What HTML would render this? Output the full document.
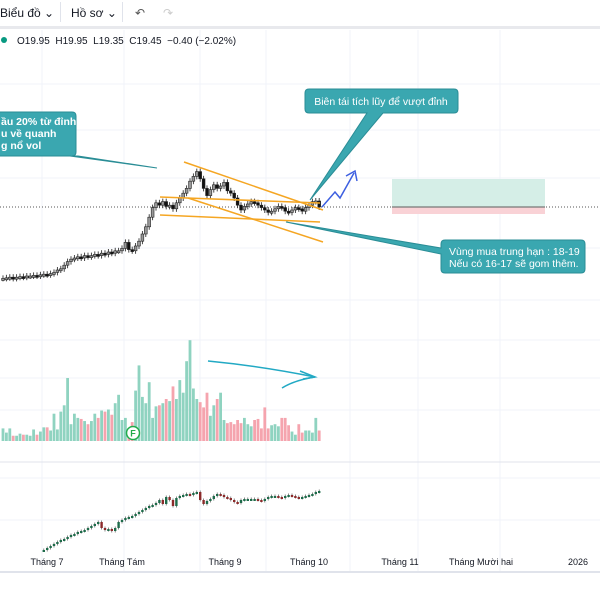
<!DOCTYPE html>
<html><head><meta charset="utf-8">
<style>
html,body{margin:0;padding:0;background:#fff;width:600px;height:600px;overflow:hidden;font-family:"Liberation Sans","Noto Sans CJK SC",sans-serif}
.tb{position:absolute;left:0;top:0;width:600px;height:26px;border-bottom:3px solid #e8e9ed;font-size:12px;color:#131722}
.tb span{position:absolute;top:6px}
</style></head><body>
<div class="tb">
<span style="left:0">Biểu đồ ⌄</span>
<span style="left:60px;top:2px;width:1px;height:20px;background:#e0e3eb"></span>
<span style="left:71px">Hồ sơ ⌄</span>
<span style="left:122px;top:2px;width:1px;height:20px;background:#e0e3eb"></span>
<span style="left:135px;color:#555">↶</span>
<span style="left:163px;color:#ccc">↷</span>
</div>
<svg width="600" height="600" style="position:absolute;left:0;top:0" id="c">
<g id="grid"></g>
<line x1="0" y1="207" x2="600" y2="207" stroke="#555" stroke-width="1" stroke-dasharray="1,2"/>
<rect x="392" y="179" width="153" height="28" fill="#d5eee7"/>
<rect x="392" y="207" width="153" height="7" fill="#f9d2d6"/>
<line x1="392" y1="207" x2="545" y2="207" stroke="#777" stroke-width="1.2"/>
<g id="vol"></g>
<g id="price"></g>
<g id="lower"></g>
<g stroke="#f5a623" stroke-width="1.5">
<line x1="184" y1="162" x2="323" y2="210"/>
<line x1="160" y1="197" x2="320" y2="203"/>
<line x1="160" y1="215" x2="320" y2="222"/>
<line x1="188" y1="198" x2="323" y2="242"/>
</g>
<polyline points="322,207 335,192 340,198 354,173" fill="none" stroke="#3d5fe0" stroke-width="1.5"/>
<polyline points="346,176 355,171 357,181" fill="none" stroke="#3d5fe0" stroke-width="1.5"/>
<path d="M208,361 Q260,366 315,377 Q295,380 282,388" fill="none" stroke="#22a9c4" stroke-width="1.5"/>
<polyline points="300,371 315,377 303,379" fill="none" stroke="#22a9c4" stroke-width="1.5"/>
<circle cx="133" cy="433" r="6.5" fill="#fff" stroke="#22ab4a" stroke-width="1.5"/>
<text x="133" y="436.5" font-size="9" text-anchor="middle" fill="#22ab4a" font-weight="bold">F</text>
<path d="M-5,112 H72 Q76,112 76,116 V152 Q76,156 72,156 H78 L157,168 L70,156 H-5 Z" fill="#3aa7b0" stroke="#2a8d96"/>
<text font-size="10.5" fill="#fff" font-weight="bold"><tspan x="1" y="125">ầu 20% từ đỉnh</tspan><tspan x="1" y="137">u về quanh</tspan><tspan x="1" y="149">g nổ vol</tspan></text>
<path d="M309,89 H454 Q458,89 458,93 V109 Q458,113 454,113 H383 L310,200 L367,113 H309 Q305,113 305,109 V93 Q305,89 309,89 Z" fill="#3aa7b0" stroke="#2a8d96"/>
<text x="381" y="105" font-size="10.5" fill="#fff" text-anchor="middle">Biên tái tích lũy để vượt đỉnh</text>
<path d="M445,240 H581 Q585,240 585,244 V269 Q585,273 581,273 H445 Q441,273 441,269 V254 L286,222 L441,248 V244 Q441,240 445,240 Z" fill="#3aa7b0" stroke="#2a8d96"/>
<text font-size="10.5" fill="#fff"><tspan x="449" y="255">Vùng mua trung hạn : 18-19</tspan><tspan x="449" y="267">Nếu có 16-17 sẽ gom thêm.</tspan></text>
<line x1="0" y1="572" x2="600" y2="572" stroke="#e0e3eb" stroke-width="2"/>
<g id="xaxis" font-size="9" fill="#131722" text-anchor="middle"></g>
</svg>
<div style="position:absolute;left:0;top:36px;font-size:10px;color:#131722;white-space:nowrap"><span style="display:inline-block;width:6px;height:6px;border-radius:3px;background:#089981;margin:0 10px 1px 1px"></span>O19.95&nbsp; H19.95&nbsp; L19.35&nbsp; C19.45&nbsp; −0.40 (−2.02%)</div>
<script>
const closes=[13.5,13.55,13.6,13.5,13.6,13.65,13.6,13.7,13.7,13.75,13.7,13.8,13.85,13.8,13.9,
14.0,14.2,14.3,14.6,14.9,15.1,15.2,
15.3,15.2,15.4,15.3,15.4,15.5,15.4,15.6,15.5,15.7,15.6,15.8,15.8,
16.0,16.5,15.9,15.8,16.2,16.6,17.2,
17.8,18.6,19.4,19.8,
19.6,19.9,19.5,19.6,19.3,19.8,20.2,20.6,
21.0,21.6,22.0,22.4,21.8,21.0,
20.4,20.9,21.3,21.0,21.2,21.5,20.8,20.6,20.2,
19.6,19.2,19.5,19.7,19.9,19.8,19.6,19.4,19.2,19.0,19.1,19.3,19.5,19.4,19.1,19.0,19.2,19.4,19.3,19.1,19.4,19.6,19.9,19.95,19.45];
const volumes=[12,8,12,5,5,7,6,6,5,11,6,9,13,13,10,
26,11,28,34,60,16,26,
22,21,19,16,19,26,22,29,28,30,25,36,44,
20,22,12,18,48,72,42,
36,56,22,33,34,36,40,38,52,40,58,46,
76,96,50,40,37,32,46,
24,34,40,46,20,17,18,16,
20,17,22,16,14,20,21,12,32,12,15,16,14,22,22,15,9,6,16,8,10,10,8,22,10,14,12,10];
const lower=[2,4,6,8,10,12,13,15,17,18,20,21,22,24,26,28,30,24,22,23,21,24,30,32,34,35,36,38,40,
42,44,46,47,49,52,48,55,52,46,54,56,57,58,57,59,60,52,48,51,53,56,58,57,55,54,52,50,49,52,53,53,53,53,52,51,53,55,56,56,55,54,56,57,56,55,54,55,56,57,58,60,61];
const xLabels=["Tháng 7","Tháng Tám","Tháng 9","Tháng 10","Tháng 11","Tháng Mười hai","2026"];
const xLabelPos=[47,122,225,309,400,481,578];
const NS="http://www.w3.org/2000/svg";
const X0=3,STEP=3.4;
function xs(i){return X0+i*STEP;}
function yp(p){return 207-(p-19.45)*12;}
function yv(v){return 441-v*1.05;}
function yl(v){return 552-v;}
function mk(tag,attrs,parent){const e=document.createElementNS(NS,tag);for(const k in attrs)e.setAttribute(k,attrs[k]);parent.appendChild(e);return e;}
const grid=document.getElementById('grid');
[42,124,200,266,350,418,500].forEach(x=>mk('line',{x1:x,y1:30,x2:x,y2:572,stroke:'#f0f3fa'},grid));
[84,130,178,248,300,340,378,410,478,520].forEach(y=>mk('line',{x1:0,y1:y,x2:600,y2:y,stroke:'#f0f3fa'},grid));
mk('line',{x1:0,y1:462,x2:600,y2:462,stroke:'#e0e3eb'},grid);
const vol=document.getElementById('vol'),price=document.getElementById('price'),low=document.getElementById('lower');
for(let i=0;i<closes.length;i++){
 const c=closes[i],o=i?closes[i-1]:c,up=c>=o,x=xs(i);
 const hi=Math.max(o,c)+0.25,lo=Math.min(o,c)-0.25;
 const w=mk('line',{x1:x,y1:yp(hi),x2:x,y2:yp(lo),stroke:'#333','stroke-width':0.9},price);
 
 
 const top=yp(Math.max(o,c)),h=Math.max(2,Math.abs(yp(o)-yp(c)));
 const b=mk('rect',{x:x-1.4,y:top,width:2.8,height:h,fill:up?'#999':'#111',stroke:'#222','stroke-width':0.6},price);
 
 
 const v=mk('rect',{x:x-1.4,y:yv(volumes[i]),width:2.8,height:441-yv(volumes[i]),fill:up?'#8fd3c0':'#f5a4ae'},vol);
 
 
}
for(let j=0;j<lower.length;j++){
 const i=j+12,x=xs(i),c=lower[j],o=j?lower[j-1]:c,up=c>=o;
 mk('line',{x1:x,y1:yl(Math.max(o,c)+1.5),x2:x,y2:yl(Math.min(o,c)-1.5),stroke:'#555','stroke-width':0.7},low);
 const r=mk('rect',{x:x-1.2,y:yl(Math.max(o,c)),width:2.4,height:Math.max(2,Math.abs(c-o)),fill:up?'#1e6b4a':'#8b2a2a'},low);
 
 
}
const xa=document.getElementById('xaxis');
xLabels.forEach((t,i)=>{const e=mk('text',{x:xLabelPos[i],y:565},xa);e.textContent=t;
 
 });
</script>
</body></html>
